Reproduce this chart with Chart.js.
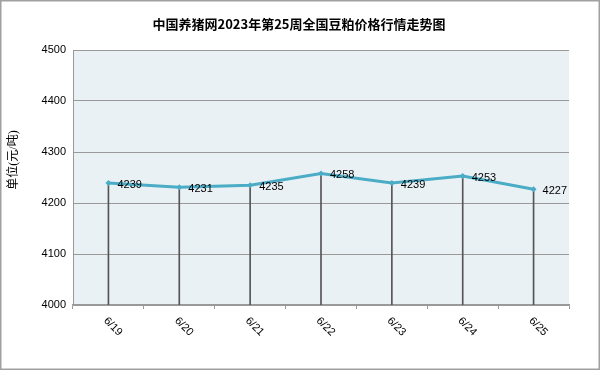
<!DOCTYPE html>
<html>
<head>
<meta charset="utf-8">
<script src="https://cdn.jsdelivr.net/npm/chart.js@4"></script>
<style>
html,body{margin:0;padding:0;background:#fff;}
#wrap{width:600px;height:370px;position:relative;}
</style>
</head>
<body>
<div id="wrap"><canvas id="c" width="600" height="370"></canvas></div>
<script>
const categories = ['6/19','6/20','6/21','6/22','6/23','6/24','6/25'];
const prices = [4239, 4231, 4235, 4258, 4239, 4253, 4227];
const yTicks = [4000, 4100, 4200, 4300, 4400, 4500];
const chartTitle = '中国养猪网2023年第25周全国豆粕价格行情走势图';
const yTitle = '单位(元/吨)';

const decor = {
  id: 'decor',
  beforeDraw(chart) {
    const {ctx, chartArea: a} = chart;
    ctx.save();
    ctx.fillStyle = '#fff';
    ctx.fillRect(0, 0, chart.width, chart.height);
    ctx.fillStyle = '#EAF1F5';
    ctx.fillRect(a.left, a.top, a.right - a.left, a.bottom - a.top);
    ctx.restore();
  },
  afterDraw(chart) {
    const {ctx} = chart;
    const xs = chart.scales.x;
    ctx.save();
    ctx.fillStyle = '#000';
    ctx.font = 'bold 13px "Noto Sans CJK SC"';
    ctx.textAlign = 'center';
    ctx.textBaseline = 'middle';
    ctx.fillText(chartTitle, 299, 24);
    ctx.save();
    ctx.translate(14, 160);
    ctx.rotate(-Math.PI / 2);
    ctx.font = '12px "Liberation Serif", "Noto Sans CJK SC"';
    ctx.fillText(yTitle, 0, 0);
    ctx.restore();
    ctx.font = '11px "Liberation Sans"';
    ctx.textAlign = 'left';
    ctx.textBaseline = 'middle';
    categories.forEach((c, i) => {
      const px = xs.getPixelForValue(i);
      ctx.save();
      ctx.translate(px - 3, xs.top + 14);
      ctx.rotate(Math.PI / 4);
      ctx.fillText(c, 0, 0);
      ctx.restore();
    });
    const meta = chart.getDatasetMeta(0);
    meta.data.forEach((pt, i) => {
      ctx.fillText(String(prices[i]), pt.x + 9, pt.y + 2);
    });
    ctx.strokeStyle = '#a0a0a0';
    ctx.lineWidth = 1.5;
    ctx.strokeRect(0.75, 0.75, chart.width - 1.5, chart.height - 1.5);
    ctx.restore();
  }
};

new Chart(document.getElementById('c'), {
  type: 'bar',
  data: {
    labels: categories,
    datasets: [
      {
        type: 'line',
        data: prices,
        borderColor: '#4BACC6',
        backgroundColor: '#4BACC6',
        borderWidth: 3,
        pointStyle: 'rectRot',
        pointRadius: 3,
        pointBackgroundColor: '#4BACC6',
        pointBorderColor: '#4BACC6',
        pointBorderWidth: 0,
        tension: 0,
        order: 0
      },
      {
        type: 'bar',
        data: prices,
        backgroundColor: '#555',
        barThickness: 1,
        order: 1
      }
    ]
  },
  options: {
    responsive: false,
    animation: false,
    devicePixelRatio: 1,
    layout: {padding: {top: 50, right: 31, bottom: 0, left: 0}},
    plugins: {legend: {display: false}, tooltip: {enabled: false}, title: {display: false}},
    scales: {
      x: {
        offset: true,
        grid: {offset: true, drawOnChartArea: false, drawTicks: true, tickLength: 4, color: '#999', lineWidth: 1},
        border: {display: true, color: '#999', width: 1.5},
        ticks: {display: false},
        afterFit(s) { s.height = 65; }
      },
      y: {
        min: 4000, max: 4500,
        afterBuildTicks(s) { s.ticks = yTicks.map(v => ({value: v})); },
        grid: {color: '#999', lineWidth: 1, drawTicks: false},
        border: {display: true, color: '#999', width: 1},
        ticks: {padding: 7, color: '#000', font: {size: 11, family: '"Liberation Sans"'}, callback: v => String(v)},
        afterFit(s) { s.width = 73; }
      }
    }
  },
  plugins: [decor]
});
</script>
</body>
</html>
